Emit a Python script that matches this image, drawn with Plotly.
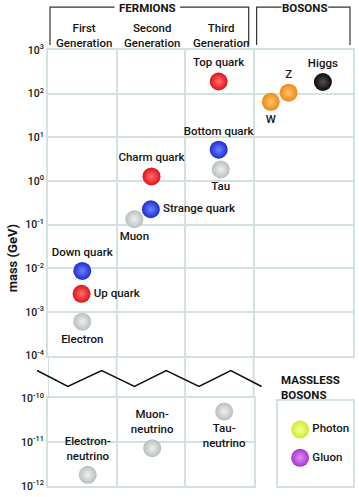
import plotly.graph_objects as go

# ---------------- data ----------------
particles = ["Up quark", "Down quark", "Electron",
             "Charm quark", "Strange quark", "Muon",
             "Top quark", "Bottom quark", "Tau",
             "W", "Z", "Higgs"]
column = [1, 1, 1, 2, 2, 2, 3, 3, 3, 4, 4, 4]
mass_gev = [0.0026, 0.0087, 0.0006,
            1.27, 0.225, 0.133,
            190, 5.2, 1.84,
            65, 105, 185]
kind = ["up", "down", "lepton", "up", "down", "lepton",
        "up", "down", "lepton", "wz", "wz", "higgs"]

neutrinos = ["Electron-<br>neutrino", "Muon-<br>neutrino", "Tau-<br>neutrino"]
nu_column = [1, 2, 3]
nu_mass_gev = [1.8e-12, 7.3e-12, 5.0e-11]

massless = ["Photon", "Gluon"]
massless_row = [2, 1]

upper_ticks = [1e3, 1e2, 1e1, 1e0, 1e-1, 1e-2, 1e-3, 1e-4]
upper_ticktext = ["10<sup>3</sup>", "10<sup>2</sup>", "10<sup>1</sup>", "10<sup>0</sup>",
                  "10<sup>-1</sup>", "10<sup>-2</sup>", "10<sup>-3</sup>", "10<sup>-4</sup>"]
lower_ticks = [1e-10, 1e-11, 1e-12]
lower_ticktext = ["10<sup>-10</sup>", "10<sup>-11</sup>", "10<sup>-12</sup>"]

column_headers = ["First<br>Generation", "Second<br>Generation", "Third<br>Generation"]

# ---------------- layout / style ----------------
W, H = 359, 497
ML, MR, MT, MB = 48, 4, 50, 9
PW, PH = W - ML - MR, H - MT - MB
UNIT = 69.0  # px per column unit
col_x = {1: 1.0, 2: 2.0, 3: 3.0, 4: 4.22}
x_nudge = [-0.01, 0.0, 0.0, 0.01, 0.0, -0.24, -0.01, -0.01, 0.02, -0.47, -0.21, 0.29]
nu_nudge = [0.08, 0.02, 0.07]
text_pos = ["middle right", "top center", "bottom center",
            "top center", "middle right", "bottom center",
            "top center", "top center", "bottom center",
            "bottom center", "top center", "top center"]
nu_text_pos = ["top center", "top center", "bottom center"]

FONT = "Roboto, 'Open Sans', sans-serif"
GRID = "#d3e1df"
INK = "#141414"
LABEL = dict(family=FONT, size=11.5, color=INK, weight=500)
style = {
    "up": ("#e0121a", "#ff6f6f"),
    "down": ("#1a2ed0", "#6f82ff"),
    "lepton": ("#b9bebe", "#eef1f1"),
    "wz": ("#ee8a16", "#ffc46e"),
    "higgs": ("#0b0b0b", "#505050"),
}
massless_style = [("#d0ea30", "#f3ff96"), ("#aa34d4", "#e08cf3")]


def px_x(px):
    return (px - ML) / PW


def px_y(py):
    return (H - MB - py) / PH


upper_dom = [px_y(357), 1.0]
lower_dom = [0.0, px_y(400)]
x_upper_range = [0.5, 0.5 + PW / UNIT]
x_lower_range = [0.5, 3.5]
x_lower_dom = [0.0, 3.0 * UNIT / PW]

fig = go.Figure()

xs = [col_x[c] + d for c, d in zip(column, x_nudge)]
fig.add_trace(go.Scatter(
    x=xs, y=mass_gev, xaxis="x", yaxis="y",
    mode="markers+text", text=particles, textposition=text_pos,
    textfont=LABEL,
    marker=dict(size=18, color=[style[k][0] for k in kind],
                gradient=dict(type="radial", color=[style[k][1] for k in kind]),
                line=dict(width=0)),
    hoverinfo="text", cliponaxis=False,
))

nxs = [col_x[c] + d for c, d in zip(nu_column, nu_nudge)]
fig.add_trace(go.Scatter(
    x=nxs, y=nu_mass_gev, xaxis="x2", yaxis="y2",
    mode="markers+text", text=neutrinos, textposition=nu_text_pos,
    textfont=LABEL,
    marker=dict(size=18, color=style["lepton"][0],
                gradient=dict(type="radial", color=style["lepton"][1]),
                line=dict(width=0)),
    hoverinfo="text", cliponaxis=False,
))

fig.add_trace(go.Scatter(
    x=[0.29] * len(massless), y=massless_row, xaxis="x3", yaxis="y3",
    mode="markers+text", text=massless, textposition="middle right",
    textfont=LABEL,
    marker=dict(size=18, color=[s[0] for s in massless_style],
                gradient=dict(type="radial", color=[s[1] for s in massless_style]),
                line=dict(width=0)),
    hoverinfo="text", cliponaxis=False,
))

axis_common = dict(showgrid=True, gridcolor=GRID, gridwidth=2, zeroline=False,
                   showline=True, mirror=True, linecolor=GRID, linewidth=2,
                   fixedrange=True)
tickfont = dict(family=FONT, size=10.5, color=INK, weight=500)

shapes = []
# connecting vertical lines between the two panels
for xv in [0.5, 1.5, 2.5, 3.5]:
    shapes.append(dict(type="line", xref="x", yref="paper", x0=xv, x1=xv,
                       y0=lower_dom[1], y1=upper_dom[0],
                       line=dict(color=GRID, width=2), layer="below"))
# zigzag break
zig = [(37, 372), (68, 388), (102, 372), (135, 388), (167, 372),
       (200, 388), (232, 372), (263, 388)]
path = "M " + " L ".join(f"{px_x(a):.4f},{px_y(b):.4f}" for a, b in zig)
shapes.append(dict(type="path", xref="paper", yref="paper", path=path,
                   line=dict(color="#111111", width=1.6)))
# header brackets
BR = "#333333"
for pts in [[(50, 45), (50, 7), (115, 7)], [(181, 7), (250, 7), (250, 45)],
            [(258, 45), (258, 7), (283, 7)], [(330, 7), (352, 7), (352, 45)]]:
    p = "M " + " L ".join(f"{px_x(a):.4f},{px_y(b):.4f}" for a, b in pts)
    shapes.append(dict(type="path", xref="paper", yref="paper", path=p,
                       line=dict(color=BR, width=1.2)))

HEAD = dict(family=FONT, size=11.5, color=INK, weight=700)
annotations = [
    dict(text="FERMIONS", x=px_x(148), y=px_y(8), xref="paper", yref="paper",
         xanchor="center", yanchor="middle", showarrow=False, font=HEAD),
    dict(text="BOSONS", x=px_x(306), y=px_y(8), xref="paper", yref="paper",
         xanchor="center", yanchor="middle", showarrow=False, font=HEAD),
    dict(text="MASSLESS<br>BOSONS", x=px_x(281), y=px_y(389), xref="paper",
         yref="paper", xanchor="left", yanchor="middle", align="left", showarrow=False,
         font=HEAD),
    dict(text="mass (GeV)", x=px_x(12), y=px_y(259), xref="paper", yref="paper",
         xanchor="center", yanchor="middle",
         textangle=-90, showarrow=False, font=dict(family=FONT, size=13, color=INK, weight=700)),
]
for i, h in enumerate(column_headers):
    annotations.append(dict(text=h, x=col_x[i + 1] + 0.02, y=px_y(35), xref="x", yref="paper",
                            xanchor="center", yanchor="middle", showarrow=False, font=LABEL))

fig.update_layout(
    width=W, height=H, margin=dict(l=ML, r=MR, t=MT, b=MB),
    paper_bgcolor="white", plot_bgcolor="white", showlegend=False,
    xaxis=dict(domain=[0, 1], range=x_upper_range, tickvals=[1.5, 2.5, 3.5],
               showticklabels=False, anchor="y", **axis_common),
    yaxis=dict(domain=upper_dom, type="log", range=[-4, 3], tickvals=upper_ticks,
               ticktext=upper_ticktext, tickfont=tickfont, anchor="x", **axis_common),
    xaxis2=dict(domain=x_lower_dom, range=x_lower_range, tickvals=[1.5, 2.5],
                showticklabels=False, anchor="y2", **axis_common),
    yaxis2=dict(domain=lower_dom, type="log", range=[-12, -10], tickvals=lower_ticks,
                ticktext=lower_ticktext, tickfont=tickfont, anchor="x2", **axis_common),
    xaxis3=dict(domain=[px_x(280), 1.0], range=[0, 1], showticklabels=False,
                anchor="y3", showgrid=False, zeroline=False, showline=True, mirror=True,
                linecolor=GRID, linewidth=2, fixedrange=True),
    yaxis3=dict(domain=[0, px_y(403)], range=[0, 3], showticklabels=False,
                anchor="x3", showgrid=False, zeroline=False, showline=True, mirror=True,
                linecolor=GRID, linewidth=2, fixedrange=True),
    shapes=shapes, annotations=annotations,
)

fig.write_html("out.html", config={"displayModeBar": False},
               post_script="document.body.style.margin='0';")
